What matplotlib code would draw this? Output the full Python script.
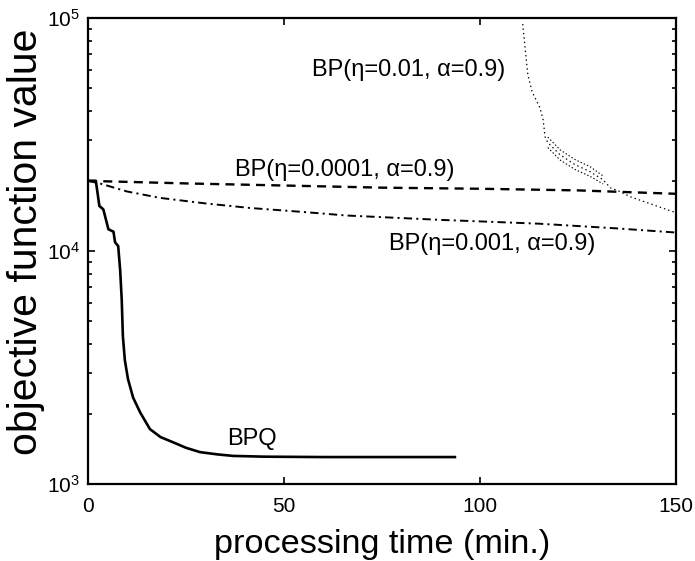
import matplotlib
matplotlib.use('Agg')
import matplotlib.pyplot as plt
from matplotlib.ticker import LogLocator, FixedLocator, NullFormatter

plt.rcParams['font.family'] = ['Liberation Sans', 'DejaVu Sans']
plt.rcParams['mathtext.fontset'] = 'custom'
plt.rcParams['mathtext.rm'] = 'Liberation Sans'
plt.rcParams['mathtext.it'] = 'Liberation Sans:italic'
plt.rcParams['lines.scale_dashes'] = False

# ---- data ----
bpq_t = [0, 2, 2.9, 3.9, 4.6, 5.2, 6.5, 6.9, 7.7, 8.2, 8.6, 8.9, 9.4, 10.2, 11.5,
         13.3, 15.8, 18.5, 21.7, 25, 28.6, 33, 37, 45, 60, 80, 93.6]
bpq_y = [20000, 20000, 15600, 15100, 13600, 12400, 12100, 10900, 10500, 8300, 6200,
         4300, 3400, 2820, 2350, 2030, 1720, 1590, 1510, 1430, 1370, 1340, 1320,
         1310, 1305, 1305, 1305]

eta4_t = [0, 25, 50, 75, 100, 125, 150]
eta4_y = [20000, 19500, 19100, 18700, 18500, 18200, 17600]

eta3_t = [0, 3, 10, 18.4, 30, 41.3, 55, 66, 90, 115, 135, 150]
eta3_y = [20000, 19500, 18000, 16900, 16000, 15300, 14700, 14200, 13600, 13100, 12500, 12000]

eta2_t = [110.9, 111.5, 112.2, 113.3, 115.3, 116.1, 116.6, 117.3, 120.4, 124.2,
          128.1, 131.4, 133.2, 135.7, 138.3, 144.1, 150]
eta2_y = [94200, 74400, 57100, 48200, 41200, 36600, 30900, 29200, 25900, 23500,
          21900, 20200, 18700, 18000, 17100, 15800, 14600]

band_t = [117.3, 120.4, 124.2, 128.1, 131.4]
band_hi = [30800, 27200, 24700, 23000, 21000]
band_lo = [27800, 24600, 22400, 20900, 19400]

xticks = [0, 50, 100, 150]
labels = {
    'eta2': 'BP(\u03b7=0.01, \u03b1=0.9)',
    'eta4': 'BP(\u03b7=0.0001, \u03b1=0.9)',
    'eta3': 'BP(\u03b7=0.001, \u03b1=0.9)',
    'bpq': 'BPQ',
}

fig = plt.figure(figsize=(6.95, 5.61), dpi=100)
ax = fig.add_axes([88/695, (561-484)/561, 588/695, 466/561])

ax.plot(bpq_t, bpq_y, color='black', lw=1.9, solid_joinstyle='round')
ax.plot(eta4_t, eta4_y, color='black', lw=1.7, linestyle=(0, (6.5, 4.5)))
ax.plot(eta3_t, eta3_y, color='black', lw=1.4, linestyle=(0, (6, 3, 1.5, 3)))
ax.plot(eta2_t, eta2_y, color='black', lw=0.9, linestyle=(0, (1, 2.2)))
ax.plot(band_t, band_hi, color='black', lw=0.8, linestyle=(0, (1, 1.5)))
ax.plot(band_t, band_lo, color='black', lw=0.8, linestyle=(0, (1, 1.5)))

ax.set_yscale('log')
ax.set_xlim(0, 150)
ax.set_ylim(1e3, 1e5)
ax.xaxis.set_major_locator(FixedLocator(xticks))
ax.yaxis.set_major_locator(LogLocator(base=10, numticks=10))
ax.yaxis.set_minor_locator(LogLocator(base=10, subs=range(2, 10), numticks=20))
ax.yaxis.set_minor_formatter(NullFormatter())

ax.tick_params(which='both', direction='in', top=True, right=True, width=1.2,
               labelsize=15)
ax.tick_params(axis='x', which='major', pad=9)
ax.tick_params(axis='y', which='major', pad=6)
ax.tick_params(which='major', length=5)
ax.tick_params(which='minor', length=3)
for s in ax.spines.values():
    s.set_linewidth(1.6)

ax.set_xlabel('processing time (min.)', fontsize=24.7, labelpad=10)
ax.set_ylabel('objective function value', fontsize=29.5)
ax.yaxis.set_label_coords(-0.073, 0.52)

ax.text(106.4, 6.0e4, labels['eta2'], fontsize=17, ha='right', va='center')
ax.text(93.6, 2.23e4, labels['eta4'], fontsize=17, ha='right', va='center')
ax.text(103.1, 1.07e4, labels['eta3'], fontsize=17, ha='center', va='center')
ax.text(41.8, 1.56e3, labels['bpq'], fontsize=17, ha='center', va='center')

fig.savefig('out.png', dpi=100)
